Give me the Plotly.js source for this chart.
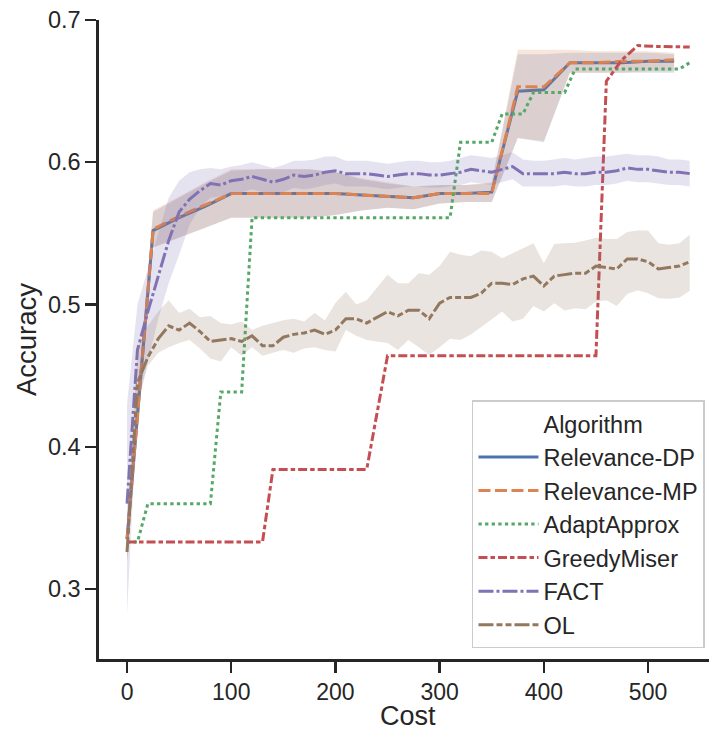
<!DOCTYPE html>
<html>
<head>
<meta charset="utf-8">
<script src="https://cdn.plot.ly/plotly-3.0.1.min.js"></script>
<style>html,body{margin:0;padding:0;background:#fff;}#chart{width:709px;height:731px;}</style>
</head>
<body>
<div id="chart"></div>
<script>
// ---------- data ----------
const relCost = [0,25,50,75,100,125,150,175,200,225,250,275,300,325,350,375,400,425,450,475,500,525];
const relDP   = [0.335,0.552,0.561,0.569,0.578,0.578,0.578,0.578,0.578,0.577,0.576,0.575,0.578,0.578,0.579,0.650,0.651,0.670,0.670,0.670,0.671,0.671];
const relMP   = [0.335,0.553,0.562,0.570,0.578,0.578,0.578,0.578,0.578,0.577,0.576,0.575,0.578,0.578,0.578,0.653,0.653,0.670,0.670,0.671,0.671,0.672];
const relDPlo = [0.320,0.540,0.547,0.554,0.561,0.561,0.561,0.561,0.563,0.566,0.568,0.567,0.571,0.572,0.572,0.617,0.614,0.663,0.663,0.663,0.663,0.663];
const relDPhi = [0.350,0.565,0.575,0.585,0.594,0.595,0.595,0.595,0.593,0.588,0.585,0.583,0.584,0.584,0.585,0.676,0.676,0.677,0.677,0.677,0.677,0.676];
const relMPlo = [0.320,0.540,0.547,0.554,0.561,0.561,0.561,0.561,0.563,0.566,0.568,0.567,0.571,0.572,0.572,0.617,0.615,0.663,0.663,0.663,0.664,0.664];
const relMPhi = [0.350,0.566,0.576,0.586,0.595,0.595,0.595,0.595,0.593,0.589,0.586,0.583,0.584,0.584,0.586,0.679,0.679,0.679,0.678,0.678,0.678,0.677];

const adaCost = [0,10,20,80,90,110,120,310,320,350,360,380,390,420,430,530,540];
const adaAcc  = [0.333,0.333,0.360,0.360,0.4385,0.4385,0.561,0.561,0.614,0.614,0.634,0.634,0.649,0.649,0.6655,0.6655,0.670];

const grmCost = [0,130,140,230,250,450,460,475,490,505,540];
const grmAcc  = [0.333,0.333,0.384,0.384,0.464,0.464,0.657,0.672,0.682,0.6815,0.681];

const stepCost = [0,10,20,30,40,50,60,70,80,90,100,110,120,130,140,150,160,170,180,190,200,210,220,230,240,250,260,270,280,290,300,310,320,330,340,350,360,370,380,390,400,410,420,430,440,450,460,470,480,490,500,510,520,530,540];
const factAcc = [0.360,0.468,0.495,0.520,0.545,0.565,0.574,0.580,0.585,0.584,0.587,0.588,0.590,0.588,0.586,0.588,0.591,0.590,0.591,0.593,0.594,0.592,0.592,0.592,0.591,0.590,0.591,0.592,0.592,0.591,0.591,0.592,0.593,0.595,0.594,0.593,0.595,0.597,0.592,0.592,0.592,0.592,0.593,0.592,0.592,0.593,0.593,0.594,0.596,0.595,0.595,0.594,0.593,0.593,0.592];
const factLo  = [0.282,0.430,0.460,0.490,0.515,0.535,0.556,0.568,0.575,0.576,0.578,0.579,0.581,0.579,0.577,0.579,0.582,0.581,0.582,0.584,0.585,0.583,0.583,0.583,0.582,0.581,0.582,0.583,0.583,0.582,0.582,0.583,0.584,0.586,0.585,0.584,0.586,0.588,0.583,0.583,0.583,0.583,0.584,0.583,0.583,0.584,0.584,0.585,0.587,0.586,0.586,0.585,0.584,0.584,0.583];
const factHi  = [0.430,0.500,0.525,0.550,0.575,0.587,0.593,0.595,0.596,0.595,0.597,0.598,0.600,0.598,0.596,0.598,0.601,0.601,0.602,0.604,0.604,0.601,0.601,0.601,0.600,0.599,0.600,0.601,0.601,0.600,0.600,0.601,0.603,0.605,0.604,0.603,0.605,0.607,0.602,0.601,0.601,0.602,0.603,0.602,0.603,0.604,0.604,0.605,0.606,0.605,0.605,0.604,0.602,0.602,0.601];
const olAcc   = [0.326,0.445,0.463,0.476,0.485,0.482,0.487,0.481,0.474,0.475,0.476,0.474,0.478,0.471,0.471,0.477,0.479,0.480,0.482,0.479,0.482,0.490,0.490,0.487,0.491,0.495,0.492,0.496,0.496,0.490,0.501,0.505,0.505,0.505,0.508,0.515,0.515,0.514,0.518,0.520,0.513,0.520,0.521,0.522,0.522,0.527,0.526,0.525,0.532,0.532,0.530,0.525,0.526,0.527,0.530];
const olLo    = [0.319,0.430,0.457,0.466,0.470,0.473,0.475,0.469,0.462,0.460,0.470,0.464,0.470,0.464,0.466,0.468,0.466,0.469,0.470,0.468,0.467,0.482,0.478,0.475,0.474,0.473,0.468,0.475,0.470,0.4645,0.470,0.476,0.475,0.479,0.484,0.4896,0.495,0.488,0.490,0.499,0.495,0.5008,0.4957,0.4973,0.4966,0.502,0.503,0.499,0.5074,0.510,0.508,0.5044,0.504,0.5048,0.5096];
const olHi    = [0.333,0.470,0.485,0.495,0.503,0.494,0.497,0.491,0.492,0.487,0.486,0.488,0.482,0.485,0.487,0.489,0.490,0.488,0.494,0.489,0.501,0.509,0.500,0.503,0.512,0.521,0.515,0.515,0.522,0.521,0.527,0.537,0.535,0.534,0.538,0.537,0.5325,0.536,0.540,0.543,0.529,0.5425,0.543,0.5434,0.545,0.547,0.546,0.546,0.551,0.552,0.552,0.543,0.542,0.543,0.549];

const xTicks = [0,100,200,300,400,500];
const yTicks = [0.3,0.4,0.5,0.6,0.7];
const xLabel = 'Cost';
const yLabel = 'Accuracy';

// ---------- styles ----------
const LW = 3;
const colors = {DP:'#4c72b0', MP:'#dd8452', ADA:'#55a868', GRM:'#c44e52', FACT:'#8172b3', OL:'#937860'};
function rgba(hex,a){const n=parseInt(hex.slice(1),16);return `rgba(${n>>16&255},${n>>8&255},${n&255},${a})`;}
function dashStr(arr){return arr.map(v=>(v*LW)+'px').join(',');}

function band(x, lo, hi, color){
  return {x: x.concat(x.slice().reverse()), y: hi.concat(lo.slice().reverse()),
    type:'scatter', mode:'lines', fill:'toself', fillcolor: rgba(color,0.2),
    line:{width:0, color:'rgba(0,0,0,0)'}, hoverinfo:'skip', showlegend:false};
}
function line(x, y, name, color, dash){
  return {x, y, name, type:'scatter', mode:'lines', line:{color, width:LW, dash}};
}

const traces = [
  {x:[null], y:[null], name:'Algorithm', type:'scatter', mode:'lines', line:{color:'rgba(0,0,0,0)', width:0}},
  line(relCost, relDP, 'Relevance-DP', colors.DP, 'solid'),
  band(relCost, relDPlo, relDPhi, colors.DP),
  line(relCost, relMP, 'Relevance-MP', colors.MP, dashStr([4,1.5])),
  band(relCost, relMPlo, relMPhi, colors.MP),
  line(adaCost, adaAcc, 'AdaptApprox', colors.ADA, dashStr([1.1,1.1])),
  line(grmCost, grmAcc, 'GreedyMiser', colors.GRM, dashStr([3,1,1.5,1])),
  line(stepCost, factAcc, 'FACT', colors.FACT, dashStr([5,1,1,1])),
  band(stepCost, factLo, factHi, colors.FACT),
  line(stepCost, olAcc, 'OL', colors.OL, dashStr([5,1,2,1,2,1])),
  band(stepCost, olLo, olHi, colors.OL)
];

const FONT = 'Liberation Sans, Arial, sans-serif';
const INK = '#262626';
const layout = {
  width:709, height:731,
  margin:{l:99, r:0, t:20, b:72, pad:0},
  paper_bgcolor:'#fff', plot_bgcolor:'#fff',
  font:{family:FONT, color:INK, size:24},
  showlegend:true,
  xaxis:{range:[-26.9,558.5], tickvals:xTicks, ticktext:xTicks.map(String),
    showgrid:false, zeroline:false, showline:true, linecolor:INK, linewidth:2.6,
    ticks:'outside', ticklen:11, tickwidth:2.4, tickcolor:INK,
    tickfont:{size:23, color:INK, family:FONT}},
  yaxis:{range:[0.2508,0.7], tickvals:yTicks, ticktext:yTicks.map(v=>v.toFixed(1)),
    showgrid:false, zeroline:false, showline:true, linecolor:INK, linewidth:2.6,
    ticks:'outside', ticklen:11, tickwidth:2.4, tickcolor:INK,
    tickfont:{size:23.5, color:INK, family:FONT},
    title:{text:yLabel, font:{size:27.5, color:INK, family:FONT}, standoff:4}},
  annotations:[{text:xLabel, xref:'paper', yref:'paper', x:0.507, y:-0.0885,
    xanchor:'center', yanchor:'middle', showarrow:false,
    font:{size:27, color:INK, family:FONT}}],
  legend:{x:0.9934, xanchor:'right', y:0.017, yanchor:'bottom',
    bgcolor:'rgba(255,255,255,0.85)', bordercolor:'#cccccc', borderwidth:1.5,
    font:{size:23.5, color:INK, family:FONT}, itemwidth:60, tracegroupgap:0}
};

Plotly.newPlot('chart', traces, layout, {displayModeBar:false, staticPlot:true});
</script>
</body>
</html>
